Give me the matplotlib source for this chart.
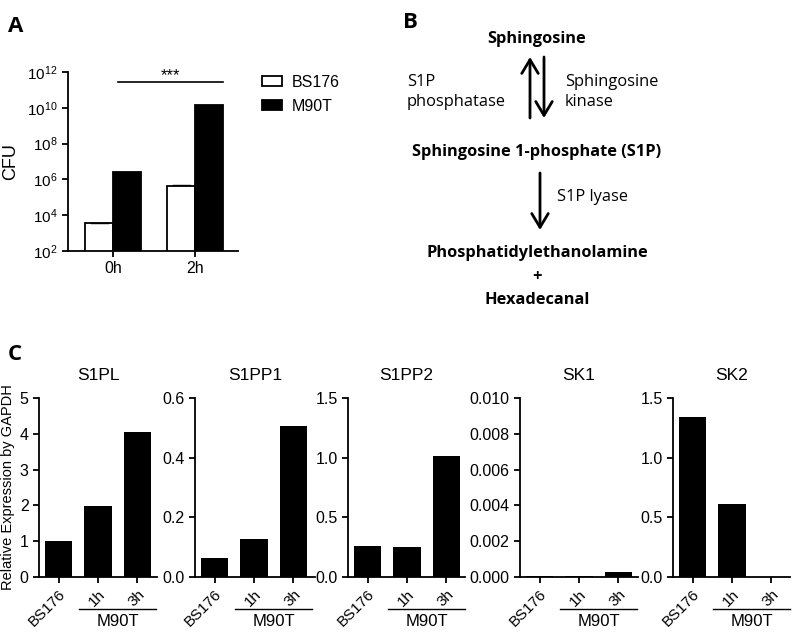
import matplotlib
matplotlib.use("Agg")
import matplotlib.pyplot as plt
import matplotlib.transforms as mtransforms
import numpy as np

plt.rcParams['font.family'] = ['Liberation Sans', 'DejaVu Sans']
plt.rcParams['axes.linewidth'] = 1.3
plt.rcParams['xtick.major.width'] = 1.3
plt.rcParams['ytick.major.width'] = 1.3

# Panel A data
times = ['0h', '2h']
cfu_bs176 = [3.6e3, 4.3e5]
cfu_m90t = [2.6e6, 1.4e10]

# Panel C data
genes = ['S1PL', 'S1PP1', 'S1PP2', 'SK1', 'SK2']
samples = ['BS176', '1h', '3h']
expr = {
    'S1PL': [1.0, 1.99, 4.04],
    'S1PP1': [0.064, 0.127, 0.505],
    'S1PP2': [0.258, 0.252, 1.015],
    'SK1': [0.00005, 0.00005, 0.00026],
    'SK2': [1.34, 0.611, 0.0],
}
ymax = {'S1PL': 5, 'S1PP1': 0.6, 'S1PP2': 1.5, 'SK1': 0.010, 'SK2': 1.5}
yticks = {
    'S1PL': ([0, 1, 2, 3, 4, 5], ['0', '1', '2', '3', '4', '5']),
    'S1PP1': ([0, 0.2, 0.4, 0.6], ['0.0', '0.2', '0.4', '0.6']),
    'S1PP2': ([0, 0.5, 1.0, 1.5], ['0.0', '0.5', '1.0', '1.5']),
    'SK1': ([0, 0.002, 0.004, 0.006, 0.008, 0.010],
            ['0.000', '0.002', '0.004', '0.006', '0.008', '0.010']),
    'SK2': ([0, 0.5, 1.0, 1.5], ['0.0', '0.5', '1.0', '1.5']),
}

W, H = 796, 634
fig = plt.figure(figsize=(W / 100, H / 100), dpi=100)


def px_axes(left, right, top, bottom):
    return fig.add_axes([left / W, 1 - bottom / H, (right - left) / W, (bottom - top) / H])


# ---------- Panel A ----------
axA = px_axes(68, 238, 72, 251)
x = np.arange(len(times))
bw = 0.34
axA.bar(x - bw / 2, cfu_bs176, bw, color='white', edgecolor='black', linewidth=1.3,
        label='BS176')
axA.bar(x + bw / 2, cfu_m90t, bw, color='black', edgecolor='black', linewidth=1.3,
        label='M90T')
# small error caps
for xi, v in zip(x - bw / 2, cfu_bs176):
    axA.plot([xi - bw * 0.3, xi + bw * 0.3], [v * 1.08, v * 1.08], color='black', lw=1)
axA.set_yscale('log')
axA.set_ylim(1e2, 1e12)
axA.set_xlim(-0.55, 1.52)
ticks = [10.0 ** k for k in range(2, 13, 2)]
axA.set_yticks(ticks)
axA.set_yticklabels([r'$\mathregular{10^{%d}}$' % k for k in range(2, 13, 2)], fontsize=11)
axA.yaxis.set_minor_locator(matplotlib.ticker.NullLocator())
axA.set_xticks(x)
axA.set_xticklabels(times, fontsize=11.5)
axA.tick_params(axis='both', length=4, direction='out')
axA.spines['top'].set_visible(False)
axA.spines['right'].set_visible(False)
axA.set_ylabel('CFU', fontsize=13, labelpad=6)
axA.plot([0.06, 1.34], [10 ** 11.44, 10 ** 11.44], color='black', lw=1.2, clip_on=False)
axA.text(0.7, 10 ** 11.4, '***', ha='center', va='bottom', fontsize=12)
leg = axA.legend(loc='upper left', bbox_to_anchor=(262 / W, 1 - 75 / H),
                 bbox_transform=fig.transFigure, frameon=False, fontsize=11.5,
                 borderpad=0, borderaxespad=0,
                 handlelength=1.25, handleheight=0.6, handletextpad=0.6, labelspacing=0.55)
fig.text(8 / W, 1 - 26 / H, 'A', fontsize=16, fontweight='bold', va='center',
         family='Open Sans')

# ---------- Panel B ----------
bfont = 'Open Sans'
fs_b = 11.8
fig.text(403 / W, 1 - 22 / H, 'B', fontsize=16, fontweight='bold', va='center', family=bfont)
cx = 537
fig.text(cx / W, 1 - 39 / H, 'Sphingosine', ha='center', va='center', fontsize=fs_b,
         fontweight='bold', family=bfont)
fig.text(cx / W, 1 - 152 / H, 'Sphingosine 1-phosphate (S1P)', ha='center', va='center',
         fontsize=fs_b, fontweight='bold', family=bfont)
fig.text(cx / W, 1 - 253 / H, 'Phosphatidylethanolamine', ha='center', va='center',
         fontsize=fs_b, fontweight='bold', family=bfont)
fig.text(cx / W, 1 - 277 / H, '+', ha='center', va='center', fontsize=fs_b,
         fontweight='bold', family=bfont)
fig.text(cx / W, 1 - 300 / H, 'Hexadecanal', ha='center', va='center', fontsize=fs_b,
         fontweight='bold', family=bfont)
fig.text(407 / W, 1 - 92 / H, 'S1P\nphosphatase', ha='left', va='center', fontsize=fs_b,
         family=bfont, linespacing=1.3)
fig.text(565 / W, 1 - 92 / H, 'Sphingosine\nkinase', ha='left', va='center', fontsize=fs_b,
         family=bfont, linespacing=1.3)
fig.text(557 / W, 1 - 197 / H, 'S1P lyase', ha='left', va='center', fontsize=fs_b,
         family=bfont)
arrow_kw = dict(arrowstyle='->,head_length=0.55,head_width=0.33', mutation_scale=18,
                color='black', lw=2, shrinkA=0, shrinkB=0, transform=fig.transFigure)
for (xa, ya), (xb, yb) in [((530, 118), (530, 57)), ((544, 57), (544, 118)),
                           ((540, 173), (540, 230))]:
    fig.add_artist(matplotlib.patches.FancyArrowPatch((xa / W, 1 - ya / H), (xb / W, 1 - yb / H),
                                                      **arrow_kw))

# ---------- Panel C ----------
fig.text(8 / W, 1 - 355 / H, 'C', fontsize=16, fontweight='bold', va='center', family=bfont)
lefts = [39, 195, 348, 520, 673]
rights = [157, 315, 465, 638, 790]
for i, g in enumerate(genes):
    ax = px_axes(lefts[i], rights[i], 398, 577)
    xs = np.arange(len(samples))
    ax.bar(xs, expr[g], 0.69, color='black')
    ax.set_ylim(0, ymax[g])
    ax.set_xlim(-0.5, (rights[i] - lefts[i]) / 39.3 - 0.5)
    ax.set_yticks(yticks[g][0])
    ax.set_yticklabels(yticks[g][1], fontsize=11.5)
    ax.set_xticks(xs)
    ax.set_xticklabels(samples, fontsize=11, rotation=45, ha='right', rotation_mode='anchor')
    ax.tick_params(axis='both', length=4, direction='out')
    ax.spines['top'].set_visible(False)
    ax.spines['right'].set_visible(False)
    ax.set_title(g, fontsize=12.5, pad=13)
    trans = mtransforms.blended_transform_factory(ax.transData, ax.transAxes)
    ax.plot([0.53, 2.47], [-0.178, -0.178], color='black', lw=1, transform=trans, clip_on=False)
    ax.text(1.5, -0.205, 'M90T', ha='center', va='top', fontsize=12, transform=trans)
    if i == 0:
        ax.set_ylabel('Relative Expression by GAPDH', fontsize=10.5, labelpad=3)

fig.savefig('out.png', dpi=100)
